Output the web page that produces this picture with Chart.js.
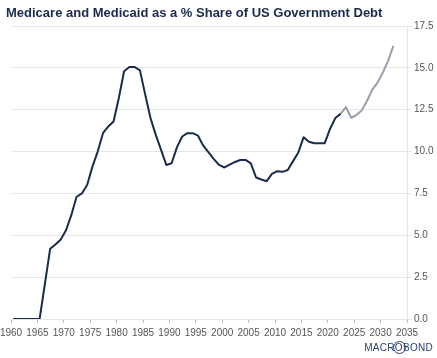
<!DOCTYPE html>
<html>
<head>
<meta charset="utf-8">
<script src="https://cdn.jsdelivr.net/npm/chart.js@4.4.1/dist/chart.umd.min.js"></script>
<style>
  body { margin: 0; background: #fff; }
  #wrap { position: relative; width: 437px; height: 358px; }
  #title {
    position: absolute; left: 6px; top: 5px;
    font: bold 13px 'Liberation Sans', Arial, sans-serif; line-height: 16px;
    color: #1a2a4c; white-space: nowrap;
  }
  #logo {
    position: absolute; right: 4px; top: 342px;
    font: 10px 'Liberation Sans', Arial, sans-serif; line-height: 11px;
    color: #2a4170; letter-spacing: 0.3px;
  }
  #logo span { position: relative; }
  #logo span::after {
    content: ''; position: absolute; left: -2px; top: -1px;
    width: 11px; height: 11px; border: 1px solid #2a4170; border-radius: 50%;
  }
</style>
</head>
<body>
<div id="wrap">
  <canvas id="chartEl" width="437" height="358"></canvas>
  <div id="title">Medicare and Medicaid as a % Share of US Government Debt</div>
  <div id="logo">MACR<span>O</span>BOND</div>
</div>
<script>
// Medicare + Medicaid as % of US government debt (annual)
const years = [
  1960, 1961, 1962, 1963, 1964, 1965, 1966, 1967, 1968, 1969,
  1970, 1971, 1972, 1973, 1974, 1975, 1976, 1977, 1978, 1979,
  1980, 1981, 1982, 1983, 1984, 1985, 1986, 1987, 1988, 1989,
  1990, 1991, 1992, 1993, 1994, 1995, 1996, 1997, 1998, 1999,
  2000, 2001, 2002, 2003, 2004, 2005, 2006, 2007, 2008, 2009,
  2010, 2011, 2012, 2013, 2014, 2015, 2016, 2017, 2018, 2019,
  2020, 2021, 2022
];
const shareActual = [
  0, 0, 0, 0, 0, 0, 2.1, 4.2, 4.45, 4.75,
  5.3, 6.2, 7.3, 7.5, 8.0, 9.1, 10.0, 11.1, 11.5, 11.8,
  13.2, 14.8, 15.05, 15.05, 14.85, 13.4, 12.0, 11.0, 10.1, 9.2,
  9.3, 10.25, 10.9, 11.1, 11.1, 10.95, 10.35, 9.95, 9.55, 9.2,
  9.05, 9.22, 9.38, 9.5, 9.5, 9.3, 8.45, 8.33, 8.23, 8.67,
  8.83, 8.79, 8.9, 9.43, 9.95, 10.86, 10.59, 10.5, 10.49, 10.5,
  11.35, 12.0, 12.25
];

// projection, joined to the last actual year
const projYears = [2022, 2023, 2024, 2025, 2026, 2027, 2028, 2029, 2030, 2031, 2032];
const shareProjected = [12.25, 12.66, 12.02, 12.18, 12.46, 13.02, 13.7, 14.12, 14.72, 15.42, 16.32];

const yTickMax = 17.5;
const yTickStep = 2.5;
const xMin = 1960;
const xMax = 2035;
const xTickStep = 5;

// annual values sit a bit past the year mark on the source axis
const YEAR_OFFSET = 0.42;
const toPoints = (xs, ys) => xs.map((yr, i) => ({ x: yr + YEAR_OFFSET, y: ys[i] }));

const tickFont = { family: "'Liberation Sans', Arial, sans-serif", size: 10 };

new Chart(document.getElementById('chartEl'), {
  type: 'line',
  data: {
    datasets: [
      {
        label: 'Actual',
        data: toPoints(years, shareActual),
        borderColor: '#1b2b4d',
        borderWidth: 2,
        borderJoinStyle: 'round',
        pointRadius: 0,
        tension: 0
      },
      {
        label: 'Projected',
        data: toPoints(projYears, shareProjected),
        borderColor: '#979fac',
        borderWidth: 2,
        borderJoinStyle: 'round',
        pointRadius: 0,
        tension: 0
      }
    ]
  },
  options: {
    responsive: false,
    animation: false,
    // title is the html block above, so leave room for it
    layout: { padding: { left: 0, right: 0, top: 26, bottom: 0 } },
    plugins: {
      legend: { display: false },
      tooltip: { enabled: false }
    },
    scales: {
      x: {
        type: 'linear',
        min: xMin,
        max: xMax,
        afterFit: (scale) => {
          scale.height = 39;
          scale.paddingLeft = 11; // plot starts 11px in, like the source
        },
        grid: {
          drawOnChartArea: false,
          drawTicks: true,
          tickLength: 4,
          color: '#bdbdbd'
        },
        border: { display: false },
        ticks: {
          stepSize: xTickStep,
          autoSkip: false,
          maxRotation: 0,
          padding: 4,
          color: '#555',
          font: tickFont,
          callback: (v) => String(v)
        }
      },
      y: {
        position: 'right',
        min: 0,
        max: yTickMax,
        afterFit: (scale) => { scale.width = 30; },
        grid: { color: '#e6e6e6', tickLength: 5 },
        border: { display: true, color: '#e6e6e6' },
        ticks: {
          stepSize: yTickStep,
          padding: 2,
          color: '#555',
          font: tickFont,
          callback: (v) => v.toFixed(1)
        }
      }
    }
  }
});
</script>
</body>
</html>
